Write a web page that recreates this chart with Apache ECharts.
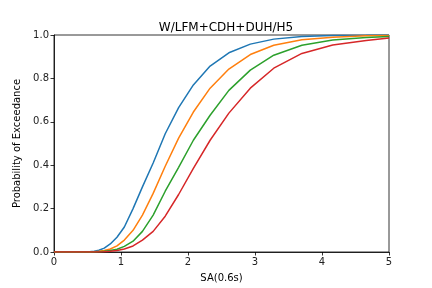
<!DOCTYPE html>
<html><head><meta charset="utf-8">
<script src="https://cdn.jsdelivr.net/npm/echarts@6/dist/echarts.min.js"></script>
<style>html,body{margin:0;padding:0;background:#fff}#c{width:432px;height:288px}</style>
</head><body><div id="c"></div>
<script>
const title = "W/LFM+CDH+DUH/H5";
const xName = "SA(0.6s)";
const yName = "Probability of Exceedance";
const sa = [0, 0.3, 0.53, 0.60, 0.67, 0.75, 0.84, 0.94, 1.05, 1.18, 1.32, 1.48, 1.66, 1.86, 2.08, 2.33, 2.61, 2.93, 3.28, 3.70, 4.16, 4.66, 5.0];
const blue   = [0, 0, 0.001, 0.003, 0.008, 0.018, 0.037, 0.068, 0.115, 0.20, 0.30, 0.41, 0.545, 0.665, 0.77, 0.857, 0.918, 0.958, 0.981, 0.993, 0.998, 0.999, 1.0];
const orange = [0, 0, 0, 0.001, 0.003, 0.007, 0.014, 0.028, 0.055, 0.10, 0.17, 0.27, 0.395, 0.525, 0.645, 0.755, 0.843, 0.91, 0.953, 0.978, 0.99, 0.996, 0.998];
const green  = [0, 0, 0, 0, 0.001, 0.003, 0.007, 0.013, 0.026, 0.05, 0.095, 0.17, 0.28, 0.39, 0.515, 0.63, 0.745, 0.838, 0.907, 0.953, 0.977, 0.988, 0.993];
const red    = [0, 0, 0, 0, 0, 0.001, 0.003, 0.007, 0.014, 0.028, 0.055, 0.095, 0.165, 0.265, 0.385, 0.515, 0.64, 0.755, 0.847, 0.915, 0.954, 0.975, 0.986];
const seriesVals = [blue, orange, green, red];
const colors = ['#1f77b4', '#ff7f0e', '#2ca02c', '#d62728'];

const chart = echarts.init(document.getElementById('c'), null, {renderer: 'canvas'});
const font = 'DejaVu Sans';
const axisCommon = {
  axisLine: {show: true, onZero: false, lineStyle: {color: '#000', width: 0.8}},
  axisTick: {show: true, inside: false, length: 3.5, lineStyle: {color: '#000', width: 0.8}},
  splitLine: {show: false},
  axisLabel: {color: '#222', fontFamily: font, fontSize: 10, margin: 5}
};
chart.setOption({
  animation: false,
  textStyle: {fontFamily: font},
  title: {text: title, left: 221, top: 17, textAlign: 'center',
    textStyle: {fontFamily: font, fontSize: 12, fontWeight: 'normal', color: '#000'}},
  grid: {left: 54, right: 43, top: 35, bottom: 36, show: true, borderColor: '#000', borderWidth: 0.8},
  xAxis: Object.assign({type: 'value', min: 0, max: 5, interval: 1,
    name: xName, nameLocation: 'middle', nameGap: 21,
    nameTextStyle: {fontFamily: font, fontSize: 10, color: '#000'}}, axisCommon),
  yAxis: Object.assign({type: 'value', min: 0, max: 1, interval: 0.2,
    name: yName, nameLocation: 'middle', nameGap: 28, nameRotate: 90,
    nameTextStyle: {fontFamily: font, fontSize: 10, color: '#000'}}, axisCommon,
    {axisLabel: {color: '#222', fontFamily: font, fontSize: 10, margin: 5, formatter: v => v.toFixed(1)}}),
  series: seriesVals.map((vals, i) => ({
    type: 'line', data: sa.map((x, j) => [x, vals[j]]), showSymbol: false, symbol: 'none',
    lineStyle: {color: colors[i], width: 1.5}, itemStyle: {color: colors[i]}
  }))
});
</script></body></html>
